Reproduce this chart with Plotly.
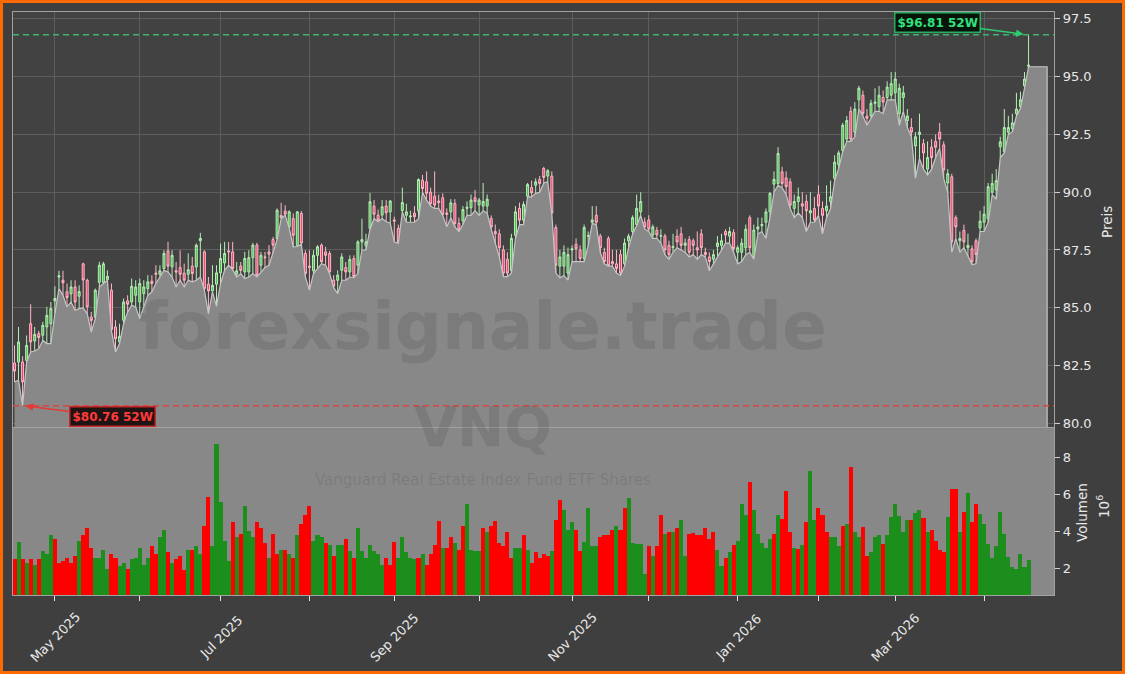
import pandas as pd
import plotly.graph_objects as go

# ---------------- data ----------------
opens = [
    82.61, 82.65, 82.65, 82.72, 84.31, 83.56, 83.88, 83.81, 84.17, 84.31,
    85.30, 86.33, 86.19, 85.69, 85.60, 85.90, 85.50, 86.90, 86.19, 84.60,
    84.60, 86.10, 86.10, 86.22, 85.76, 84.17, 83.52, 84.46, 85.30, 85.25,
    85.54, 85.25, 85.61, 85.83, 86.15, 86.50, 86.45, 86.70, 87.46, 86.77,
    86.60, 86.74, 86.50, 86.45, 86.80, 86.77, 87.90, 87.42, 86.02, 85.73,
    86.02, 86.51, 86.94, 87.46, 87.42, 86.45, 86.80, 86.55, 86.55, 87.17,
    87.71, 86.84, 87.20, 87.42, 87.95, 87.99, 89.00, 89.19, 88.50, 88.86,
    87.70, 89.08, 87.35, 86.80, 86.60, 87.27, 87.71, 87.42, 87.35, 86.19,
    86.19, 86.62, 86.74, 86.55, 87.13, 86.84, 87.85, 87.68, 88.43, 89.40,
    89.01, 89.01, 89.40, 89.15, 88.80, 88.43, 89.20, 89.00, 88.93, 89.10,
    89.20, 90.52, 90.45, 90.00, 89.83, 89.62, 89.76, 89.10, 89.15, 89.51,
    88.65, 88.76, 89.30, 89.33, 89.76, 89.45, 89.40, 89.40, 88.86, 88.30,
    88.20, 87.50, 87.10, 86.60, 88.14, 89.30, 88.79, 89.82, 90.20, 90.30,
    90.55, 91.03, 90.70, 90.70, 88.47, 86.80, 86.80, 86.50, 87.50, 87.75,
    87.50, 87.13, 88.10, 88.70, 89.00, 88.10, 87.40, 88.00, 87.00, 86.90,
    87.30, 86.90, 87.90, 88.30, 88.60, 89.15, 88.70, 88.80, 88.15, 88.35,
    88.10, 88.10, 87.70, 87.60, 88.10, 88.20, 87.70, 87.95, 87.90, 87.60,
    88.20, 87.40, 87.20, 87.10, 87.65, 87.70, 88.30, 88.10, 88.25, 87.40,
    87.40, 87.60, 88.90, 87.20, 88.40, 88.55, 88.70, 89.15, 90.35, 90.38,
    90.88, 90.62, 90.45, 89.30, 89.60, 89.50, 89.60, 89.10, 89.30, 89.90,
    89.30, 89.20, 89.60, 90.60, 91.20, 91.80, 92.30, 93.50, 92.60, 94.00,
    94.20, 93.30, 93.30, 93.85, 93.70, 94.10, 94.10, 94.20, 94.30, 93.40,
    94.10, 93.10, 92.80, 92.00, 92.50, 92.10, 91.00, 91.95, 92.20, 92.60,
    92.05, 90.40, 90.67, 88.90, 87.90, 88.35, 87.60, 87.55, 87.90, 88.45,
    88.70, 88.85, 90.00, 90.10, 91.97, 91.75, 92.60, 92.75, 93.40, 93.70,
    94.60, 95.45,
]
highs = [
    83.37, 84.17, 82.90, 83.80, 85.15, 84.17, 84.00, 84.39, 85.04, 85.25,
    85.93, 86.60, 86.60, 86.05, 86.19, 86.19, 85.97, 86.95, 86.26, 84.82,
    85.83, 86.99, 86.99, 86.62, 86.05, 84.46, 84.31, 85.40, 85.54, 86.26,
    86.19, 86.26, 86.19, 86.41, 86.41, 86.84, 86.84, 87.49, 87.85, 87.49,
    86.98, 87.49, 86.91, 87.35, 87.20, 87.78, 88.24, 87.49, 86.33, 86.84,
    86.84, 87.78, 87.85, 87.85, 87.85, 86.98, 86.98, 87.42, 87.49, 87.81,
    87.81, 87.42, 87.42, 87.71, 88.07, 89.30, 89.54, 89.44, 89.22, 89.08,
    89.19, 89.19, 87.49, 87.49, 87.49, 87.71, 87.78, 87.64, 87.46, 86.41,
    86.62, 87.35, 86.98, 87.27, 87.27, 87.92, 88.85, 88.20, 89.97, 89.66,
    89.25, 89.66, 89.66, 89.66, 88.94, 88.60, 90.20, 89.50, 89.20, 89.40,
    90.60, 90.75, 90.90, 90.20, 90.90, 89.90, 89.95, 89.30, 89.70, 89.70,
    88.90, 89.40, 89.60, 89.90, 90.10, 89.75, 90.40, 89.90, 89.00, 88.60,
    88.40, 87.70, 87.40, 88.20, 89.40, 89.55, 89.60, 90.40, 90.50, 90.60,
    90.70, 91.10, 91.00, 90.90, 88.60, 87.50, 87.70, 87.60, 87.70, 88.00,
    87.70, 88.60, 88.30, 89.40, 89.40, 88.20, 87.60, 88.10, 87.50, 87.50,
    87.50, 88.00, 88.20, 89.00, 89.90, 90.00, 88.90, 89.00, 88.60, 88.50,
    88.40, 88.20, 87.90, 88.20, 88.40, 88.50, 88.00, 88.10, 88.00, 88.30,
    88.40, 87.60, 87.40, 87.50, 88.10, 88.20, 88.40, 88.50, 88.40, 87.70,
    88.00, 88.60, 89.00, 88.60, 88.90, 88.90, 89.30, 90.00, 90.90, 91.95,
    91.10, 90.90, 90.60, 89.90, 90.20, 90.00, 89.90, 90.00, 89.80, 90.30,
    89.60, 90.30, 90.50, 91.60, 91.80, 93.00, 93.30, 93.70, 93.90, 94.60,
    94.40, 93.60, 94.00, 94.50, 94.60, 94.40, 94.80, 95.20, 95.20, 94.70,
    94.60, 93.60, 93.20, 92.60, 93.40, 92.30, 92.20, 92.30, 92.50, 93.00,
    92.20, 91.00, 90.80, 89.00, 88.30, 88.60, 88.20, 87.70, 88.00, 89.20,
    89.40, 90.40, 90.80, 91.00, 92.40, 93.60, 93.30, 93.40, 94.30, 94.35,
    95.20, 96.81,
]
lows = [
    81.79, 81.86, 80.76, 82.65, 83.09, 83.13, 83.23, 83.59, 83.45, 83.45,
    84.75, 85.83, 85.54, 85.04, 85.25, 84.89, 84.96, 84.99, 84.75, 83.95,
    84.53, 85.90, 86.05, 86.19, 84.00, 83.09, 83.45, 84.31, 84.82, 85.11,
    85.04, 84.53, 85.04, 85.54, 85.69, 86.05, 86.33, 86.62, 86.55, 86.33,
    85.90, 86.19, 85.90, 86.19, 86.12, 86.19, 86.33, 85.76, 84.75, 85.69,
    85.06, 86.05, 86.62, 86.84, 86.65, 86.33, 86.48, 86.26, 86.33, 86.48,
    86.33, 86.55, 86.74, 86.84, 87.35, 87.95, 88.85, 89.01, 88.45, 87.64,
    87.65, 87.75, 86.33, 85.76, 86.48, 86.69, 86.91, 86.84, 86.48, 85.87,
    85.61, 86.19, 86.19, 86.33, 86.30, 86.48, 87.50, 87.50, 88.40, 88.86,
    88.72, 88.86, 88.72, 88.67, 87.85, 87.78, 89.15, 88.70, 88.70, 88.70,
    88.85, 90.00, 89.66, 89.40, 89.30, 89.30, 89.00, 88.50, 88.90, 88.50,
    88.30, 88.60, 89.00, 89.00, 89.20, 89.00, 89.20, 89.10, 88.40, 87.80,
    87.20, 86.35, 86.35, 86.50, 88.00, 88.60, 88.60, 89.80, 89.80, 89.95,
    90.00, 90.40, 90.45, 89.05, 86.50, 86.30, 86.40, 86.20, 87.00, 87.00,
    87.00, 87.00, 87.70, 88.65, 88.60, 87.40, 86.90, 86.80, 86.80, 86.50,
    86.40, 86.80, 87.60, 88.20, 88.55, 89.00, 88.40, 88.30, 88.00, 88.00,
    87.80, 87.30, 87.10, 87.40, 87.60, 87.50, 87.40, 87.20, 87.30, 87.10,
    87.30, 87.20, 86.60, 86.90, 87.20, 87.50, 87.80, 87.80, 87.40, 86.90,
    87.00, 87.30, 87.40, 87.10, 88.20, 88.30, 88.00, 88.90, 90.00, 90.30,
    90.20, 89.90, 89.30, 88.90, 89.10, 88.90, 88.30, 88.70, 88.70, 89.00,
    88.20, 88.90, 89.30, 90.50, 91.03, 91.75, 92.20, 92.20, 92.40, 93.60,
    93.30, 92.90, 93.20, 93.50, 93.50, 93.40, 94.00, 94.00, 94.00, 92.90,
    93.50, 92.80, 92.40, 90.60, 91.46, 91.00, 90.75, 91.00, 91.50, 91.90,
    90.60, 90.00, 87.40, 88.00, 87.40, 87.60, 87.20, 86.87, 86.90, 88.30,
    88.30, 88.70, 89.90, 89.70, 91.50, 91.70, 92.50, 92.62, 93.30, 93.63,
    94.50, 95.43,
]
closes = [
    82.26, 83.52, 81.79, 83.37, 83.52, 83.85, 83.71, 84.24, 84.67, 84.96,
    85.40, 86.38, 86.08, 85.44, 85.90, 85.25, 85.70, 86.20, 85.04, 84.45,
    85.76, 86.84, 86.90, 86.36, 84.05, 83.66, 83.76, 85.25, 85.15, 85.93,
    85.90, 86.05, 85.90, 86.12, 86.05, 86.45, 86.60, 87.35, 86.80, 87.27,
    86.55, 86.45, 86.19, 86.65, 86.48, 87.71, 88.00, 85.83, 85.73, 85.97,
    86.51, 87.13, 87.35, 87.42, 86.70, 86.60, 86.62, 87.13, 87.17, 87.71,
    86.41, 87.27, 87.17, 87.32, 87.71, 89.22, 88.90, 89.05, 89.15, 88.14,
    89.15, 87.80, 86.48, 86.75, 87.27, 87.64, 86.99, 87.27, 86.55, 85.93,
    86.41, 87.20, 86.55, 87.09, 86.35, 87.85, 87.95, 87.85, 89.59, 89.05,
    88.79, 89.37, 89.11, 89.62, 88.75, 87.85, 89.55, 89.15, 88.97, 88.94,
    90.55, 90.16, 89.95, 89.50, 89.44, 89.55, 89.04, 89.05, 89.54, 88.65,
    88.36, 89.25, 89.35, 89.66, 89.59, 89.66, 89.60, 89.70, 88.50, 88.20,
    87.60, 86.50, 86.50, 88.00, 89.15, 88.79, 89.47, 90.33, 89.97, 90.45,
    90.38, 90.64, 90.93, 89.10, 86.84, 87.20, 87.40, 87.30, 87.55, 87.55,
    87.13, 88.47, 88.12, 88.80, 88.70, 87.60, 87.00, 86.82, 86.90, 86.70,
    86.50, 87.80, 88.10, 88.90, 89.30, 89.60, 88.50, 88.40, 88.50, 88.15,
    88.12, 87.50, 87.30, 87.65, 87.85, 87.70, 87.80, 87.40, 87.70, 87.50,
    87.60, 87.30, 87.00, 87.30, 87.80, 87.90, 88.15, 88.30, 87.56, 87.60,
    87.80, 88.40, 87.60, 88.36, 88.50, 88.60, 89.15, 89.95, 90.56, 91.68,
    90.38, 90.24, 89.44, 89.60, 89.80, 89.40, 89.20, 89.20, 88.80, 89.40,
    89.00, 89.40, 89.80, 91.30, 91.70, 92.90, 93.10, 92.30, 93.60, 94.50,
    93.40, 93.20, 93.85, 93.90, 94.20, 93.90, 94.55, 94.70, 94.90, 94.50,
    94.30, 93.30, 92.60, 92.40, 92.60, 91.70, 91.50, 91.50, 91.95, 92.30,
    90.96, 90.80, 87.85, 88.50, 88.00, 87.85, 87.70, 86.99, 87.30, 88.75,
    89.05, 90.24, 90.38, 90.50, 92.18, 92.80, 92.80, 93.00, 93.60, 94.00,
    94.90, 95.50,
]
# volume in millions of shares
volume_m = [
    2.5, 3.45, 2.5, 2.3, 2.5, 2.2, 2.5, 2.95, 2.8, 3.8,
    3.6, 2.3, 2.4, 2.6, 2.3, 2.7, 3.5, 3.8, 4.2, 3.1,
    2.6, 2.6, 3.0, 2.0, 2.8, 2.6, 2.15, 2.3, 2.0, 2.5,
    2.6, 3.1, 2.2, 2.6, 3.2, 2.8, 3.7, 4.1, 2.9, 2.3,
    2.5, 2.7, 1.9, 3.0, 3.0, 3.2, 2.8, 4.3, 5.9, 3.2,
    8.75, 5.6, 3.5, 2.4, 4.5, 3.7, 3.9, 5.4, 4.05, 3.7,
    4.5, 4.2, 3.4, 2.55, 3.9, 2.8, 3.0, 3.0, 2.8, 2.6,
    3.8, 4.4, 4.9, 5.4, 3.5, 3.8, 3.7, 3.4, 3.3, 2.7,
    3.3, 3.3, 3.6, 2.95, 2.6, 4.2, 2.95, 2.6, 3.3, 2.95,
    2.8, 2.2, 2.55, 2.2, 3.45, 2.55, 3.7, 2.9, 2.6, 2.5,
    2.6, 2.8, 2.2, 2.8, 3.3, 4.6, 3.1, 3.1, 3.7, 3.4,
    3.0, 4.3, 5.5, 3.0, 2.95, 2.95, 4.2, 4.0, 4.3, 4.6,
    3.4, 3.2, 4.0, 2.6, 3.1, 3.1, 3.8, 3.0, 2.3, 2.9,
    2.55, 2.8, 2.7, 2.95, 4.65, 5.7, 5.2, 4.1, 4.5, 4.1,
    2.95, 3.45, 5.3, 3.2, 3.2, 3.7, 3.8, 3.8, 4.1, 4.3,
    4.1, 5.3, 5.8, 3.4, 3.35, 3.35, 1.7, 3.2, 2.7, 3.2,
    4.9, 3.9, 3.96, 3.96, 4.2, 4.65, 2.7, 3.9, 3.95, 3.8,
    3.8, 4.2, 3.6, 4.0, 3.0, 2.15, 2.6, 2.9, 3.3, 3.5,
    5.5, 4.9, 6.7, 5.2, 3.9, 3.4, 3.1, 3.6, 3.9, 4.9,
    4.7, 6.2, 3.96, 3.1, 3.05, 3.3, 4.5, 7.3, 4.65, 5.3,
    4.9, 4.0, 3.7, 3.7, 3.2, 4.3, 4.4, 7.5, 3.96, 3.7,
    4.23, 2.7, 2.9, 3.7, 3.84, 3.36, 3.84, 4.78, 5.5, 4.87,
    3.96, 4.65, 4.65, 5.0, 5.15, 4.72, 4.0, 4.1, 3.5, 3.0,
    2.9, 4.78, 6.33, 6.3, 3.96, 5.09, 6.11, 4.51, 5.51, 4.96,
    4.42, 3.33, 2.6, 3.22, 5.09, 3.87, 2.64, 2.09, 2.0, 2.78,
    2.11, 2.46,
]
# 1 = up-day volume bar (green), 0 = down-day (red)
volume_up = [
    0, 1, 0, 1, 0, 1, 0, 1, 1, 1,
    0, 0, 0, 0, 0, 0, 1, 0, 0, 0,
    1, 1, 1, 1, 0, 0, 1, 1, 0, 1,
    1, 1, 1, 1, 0, 0, 1, 1, 0, 1,
    0, 0, 0, 1, 0, 1, 1, 0, 0, 1,
    1, 1, 1, 1, 0, 1, 0, 1, 1, 1,
    0, 0, 0, 1, 0, 0, 1, 0, 1, 0,
    1, 0, 0, 0, 1, 1, 1, 0, 1, 0,
    1, 1, 0, 1, 0, 1, 1, 1, 1, 1,
    1, 1, 0, 0, 0, 1, 1, 1, 1, 1,
    0, 1, 0, 0, 0, 0, 1, 0, 0, 1,
    0, 0, 1, 1, 1, 1, 0, 1, 0, 0,
    0, 0, 0, 0, 1, 1, 0, 1, 0, 0,
    0, 0, 0, 1, 0, 0, 1, 1, 1, 0,
    0, 1, 1, 1, 1, 0, 0, 0, 0, 1,
    0, 0, 1, 1, 1, 1, 1, 0, 1, 0,
    0, 1, 0, 1, 0, 1, 1, 0, 0, 0,
    0, 0, 0, 0, 1, 1, 0, 1, 0, 1,
    1, 1, 0, 1, 1, 1, 1, 1, 0, 1,
    0, 0, 0, 1, 0, 1, 0, 1, 1, 0,
    0, 0, 1, 1, 1, 0, 1, 0, 1, 1,
    0, 0, 1, 1, 1, 0, 1, 1, 1, 1,
    1, 1, 0, 1, 1, 0, 1, 0, 0, 0,
    0, 1, 0, 0, 1, 0, 1, 0, 0, 1,
    1, 1, 1, 1, 1, 1, 1, 1, 1, 1,
    1, 1,
]
market_holidays = ["2025-04-18", "2025-05-26", "2025-06-19", "2025-07-04",
                   "2025-09-01", "2025-11-27", "2025-12-25", "2026-01-01",
                   "2026-01-19", "2026-02-16", "2026-04-03"]
first_date = "2025-04-16"
price_ticks = [80.0, 82.5, 85.0, 87.5, 90.0, 92.5, 95.0, 97.5]
volume_ticks = [2, 4, 6, 8]
symbol = "VNQ"
fund_name = "Vanguard Real Estate Index Fund ETF Shares"
watermark = "forexsignale.trade"

# ---------------- derived ----------------
n = len(closes)
dates = pd.bdate_range(first_date, periods=n, freq="C", holidays=market_holidays)
idx = list(range(n))
tick_idx = [i for i in range(1, n) if dates[i].month != dates[i - 1].month]
tick_lbl = [dates[i].strftime("%b %Y") if dates[i].month % 2 == 1 else "" for i in tick_idx]

hi_i = max(range(n), key=lambda i: highs[i])
lo_i = min(range(n), key=lambda i: lows[i])
hi_v, lo_v = highs[hi_i], lows[lo_i]

W, H = 1125, 674
ML, MR, MT, MB = 13, 71, 12, 79
PW, PH = W - ML - MR, H - MT - MB

def px_x(p):
    return (p - ML) / PW

def px_y(p):
    return (H - MB - p) / PH

FONT = "DejaVu Sans"
BG = "#3f3f3f"
PLOT_BG = "#424242"
GRID = "#5d5d5d"
FRAME = "#a2a2a2"
TXT = "#e8e8e8"
AREA = "#888888"
GREEN_V = "#1b8e1b"
RED_V = "#ff0000"

x_ext = n - 1 + 4.6  # flat extension of the low-area to the right

fig = go.Figure()

fig.add_trace(go.Scatter(
    x=idx + [x_ext, x_ext], y=lows + [lows[-1], 0],
    mode="lines", fill="tozeroy", fillcolor=AREA,
    line=dict(color="#c6c6c6", width=1.2),
    hoverinfo="skip", showlegend=False, xaxis="x", yaxis="y"))

fig.add_trace(go.Candlestick(
    x=idx, open=opens, high=highs, low=lows, close=closes,
    increasing=dict(line=dict(color="#b6eeb6", width=1), fillcolor="#4cbb4c"),
    decreasing=dict(line=dict(color="#ffb8c8", width=1), fillcolor="#e8406a"),
    whiskerwidth=0, showlegend=False, xaxis="x", yaxis="y"))

fig.add_trace(go.Bar(
    x=idx, y=volume_m, width=1.0,
    marker=dict(color=[GREEN_V if u else RED_V for u in volume_up], line=dict(width=0)),
    showlegend=False, xaxis="x2", yaxis="y2"))

x_range = [-0.37, 257.3]

fig.update_layout(
    width=W, height=H,
    margin=dict(l=ML, r=MR, t=MT, b=MB, pad=0),
    paper_bgcolor=BG, plot_bgcolor=PLOT_BG,
    font=dict(family=FONT, color=TXT, size=13),
    bargap=0, showlegend=False,
    xaxis=dict(domain=[0, 1], anchor="y", range=x_range,
               tickvals=tick_idx, showticklabels=False, ticks="",
               showgrid=True, gridcolor=GRID, gridwidth=1,
               showline=True, mirror=True, linecolor=FRAME, linewidth=1.2,
               zeroline=False, rangeslider=dict(visible=False)),
    yaxis=dict(domain=[0.2882, 1], anchor="x", side="right", range=[79.84, 97.8],
               tickvals=price_ticks, tickformat=".1f",
               ticks="outside", ticklen=5, tickcolor="#d0d0d0",
               tickfont=dict(size=13, color=TXT),
               showgrid=True, gridcolor=GRID, gridwidth=1,
               showline=True, mirror=True, linecolor=FRAME, linewidth=1.2,
               zeroline=False),
    xaxis2=dict(domain=[0, 1], anchor="y2", range=x_range, matches="x",
                tickvals=tick_idx, showticklabels=False,
                ticks="outside", ticklen=5, tickcolor="#e0e0e0",
                showgrid=False, showline=True, mirror=True,
                linecolor=FRAME, linewidth=1.2, zeroline=False),
    yaxis2=dict(domain=[0, 0.2864], anchor="x2", side="right", range=[0.57, 9.62],
                tickvals=volume_ticks, ticks="outside", ticklen=5, tickcolor="#d0d0d0",
                tickfont=dict(size=13, color=TXT),
                showgrid=False, showline=True, mirror=True,
                linecolor=FRAME, linewidth=1.2, zeroline=False),
)

shapes = [
    # grey background of the volume panel
    dict(type="rect", xref="x2 domain", yref="y2 domain", x0=0, x1=1, y0=0, y1=1,
         fillcolor=AREA, line=dict(width=0), layer="below"),
    # 52-week high / low lines
    dict(type="line", xref="x domain", yref="y", x0=0, x1=1, y0=hi_v, y1=hi_v,
         line=dict(color="#3cb46e", width=1.5, dash="6px,4px")),
    dict(type="line", xref="x domain", yref="y", x0=0, x1=1, y0=lo_v, y1=lo_v,
         line=dict(color="#d94545", width=1.5, dash="6px,4px")),
    # orange frame around the figure
    dict(type="rect", xref="paper", yref="paper",
         x0=px_x(1.5), x1=px_x(W - 1.5), y0=px_y(H - 1.5), y1=px_y(1.5),
         line=dict(color="#ff6a00", width=3), fillcolor="rgba(0,0,0,0)"),
]
fig.update_layout(shapes=shapes)

ann = []
# watermarks
ann.append(dict(text=f"<b>{watermark}</b>", xref="paper", yref="paper",
                x=px_x(483), y=px_y(326), showarrow=False,
                font=dict(family=FONT, size=66, color="rgba(55,55,55,0.16)")))
ann.append(dict(text=f"<b>{symbol}</b>", xref="paper", yref="paper",
                x=px_x(483), y=px_y(461), showarrow=False,
                font=dict(family=FONT, size=56, color="rgba(55,55,55,0.16)")))
ann.append(dict(text=fund_name, xref="paper", yref="paper",
                x=px_x(483), y=px_y(491), showarrow=False,
                font=dict(family=FONT, size=15, color="rgba(55,55,55,0.16)")))
# x tick labels (centred under ticks, rotated)
for i, lbl in zip(tick_idx, tick_lbl):
    if lbl:
        ann.append(dict(text=lbl, xref="x2", yref="paper", x=i, y=px_y(637),
                        showarrow=False, textangle=-45,
                        xanchor="center", yanchor="middle",
                        font=dict(family=FONT, size=13, color=TXT)))
# axis titles
ann.append(dict(text="Preis", xref="paper", yref="paper", x=px_x(1107), y=px_y(222),
                showarrow=False, textangle=-90, xanchor="center", yanchor="middle",
                font=dict(family=FONT, size=13.5, color=TXT)))
ann.append(dict(text="Volumen", xref="paper", yref="paper", x=px_x(1082), y=px_y(513),
                showarrow=False, textangle=-90, xanchor="center", yanchor="middle",
                font=dict(family=FONT, size=13.5, color=TXT)))
ann.append(dict(text="10<sup>6</sup>", xref="paper", yref="paper", x=px_x(1103), y=px_y(507),
                showarrow=False, textangle=-90, xanchor="center", yanchor="middle",
                font=dict(family=FONT, size=13.5, color=TXT)))
# 52W labels
ann.append(dict(text=f"<b>${hi_v:.2f} 52W</b>", xref="x", yref="y", x=hi_i, y=hi_v,
                showarrow=True, arrowhead=2, arrowsize=1, arrowwidth=1.5,
                arrowcolor="#2ecc71", ax=-91, ay=-12, standoff=5,
                font=dict(family=FONT, size=12, color="#33e07e"),
                bgcolor="#06140a", bordercolor="#27ae60", borderwidth=1.5, borderpad=2))
ann.append(dict(text=f"<b>${lo_v:.2f} 52W</b>", xref="x", yref="y", x=lo_i, y=lo_v,
                showarrow=True, arrowhead=2, arrowsize=1, arrowwidth=1.5,
                arrowcolor="#e53935", ax=90, ay=11, standoff=3,
                font=dict(family=FONT, size=12, color="#ff3b3b"),
                bgcolor="#1e1414", bordercolor="#c62828", borderwidth=1.5, borderpad=2))
fig.update_layout(annotations=ann)

fig.write_html("out.html",
               config={"displayModeBar": False},
               post_script="document.body.style.margin='0';document.body.style.padding='0';")
